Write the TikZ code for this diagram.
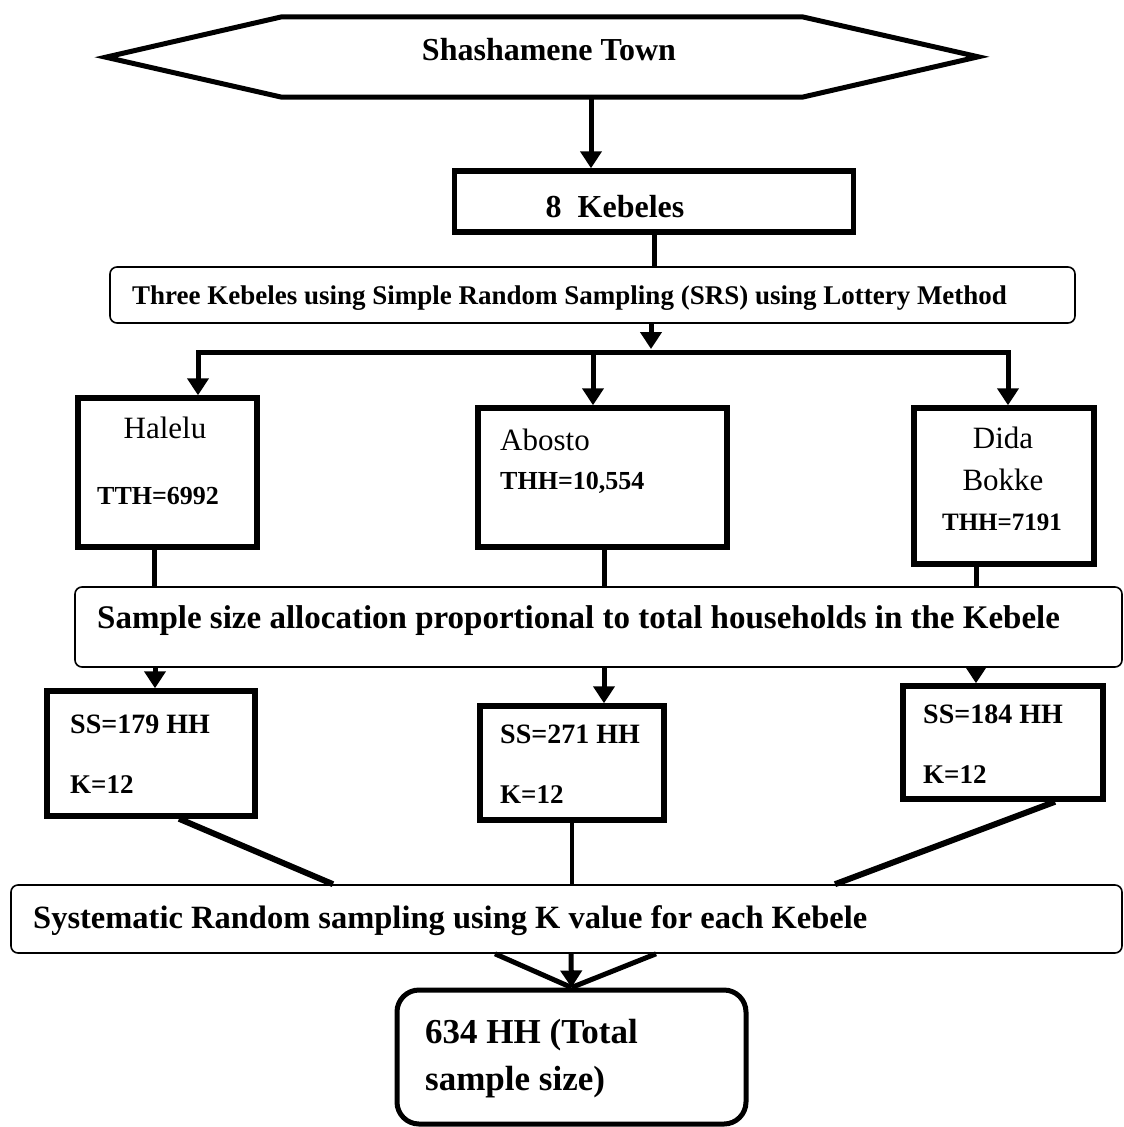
\documentclass[tikz,border=0pt]{standalone}
\usepackage{fontspec}
\setmainfont{Liberation Serif}
\usetikzlibrary{arrows.meta}

\tikzset{
  heavybox/.style={draw, line width=5.5, inner sep=0},
  softbox/.style={draw, rounded corners=7, line width=1.6, inner sep=0},
  link/.style={line width=5},
  arr/.style={link, -{Triangle[length=17pt,width=21pt]}},
  txt/.style={inner sep=0, font=\bfseries\fontsize{#1}{#1}\selectfont},
  txt/.default=26,
  plain/.style={inner sep=0, font=\fontsize{31}{31}\selectfont},
}

\begin{document}
\begin{tikzpicture}[x=1pt, y=-1pt]
  \useasboundingbox (0,0) rectangle (1124,1127);

  % Town and the kebeles
  \node (town) at (542,57) [minimum width=520, minimum height=80, inner sep=0] {};
  \draw[link, line join=miter] (town.north west) -- (town.north east) -- ++(176,40)
    -- (town.south east) -- (town.south west) -- ++(-176,-40) -- cycle;
  \node[txt=32, anchor=base] (towntxt) at (549,60) {Shashamene Town};

  \node[heavybox, minimum width=399, minimum height=61] (kebeles) at (654,201.5) {};
  \node[txt=32, anchor=base] (kebtxt) at (615,217) {8\ \ Kebeles};

  \node[softbox, minimum width=965, minimum height=56] (srs) at (592.5,295) {};
  \node[txt=27, anchor=base west] (srstxt) at (132,304)
    {Three Kebeles using Simple Random Sampling (SRS) using Lottery Method};

  \draw[arr] (town.south -| 591,0) -- (kebeles.north -| 591,0);
  \draw[link] (kebeles.south) -- (srs.north -| kebeles.south);

  % Selected kebeles
  \node[heavybox, minimum width=179, minimum height=149] (halelu) at (167.5,472.5) {};
  \node[heavybox, minimum width=249, minimum height=139] (abosto) at (602.5,477.5) {};
  \node[heavybox, minimum width=180, minimum height=156] (dida) at (1004,486) {};

  \node[plain, anchor=base] (halname) at (165,438) {Halelu};
  \node[txt, anchor=base west] (halthh) at (97,504) {TTH=6992};
  \node[plain, anchor=base west] (aboname) at (500,450) {Abosto};
  \node[txt, anchor=base west] (abothh) at (500,489) {THH=10,554};
  \node[plain, anchor=base] (didaname) at (1003,448) {Dida};
  \node[plain, anchor=base] (didaname2) at (1003,490) {Bokke};
  \node[txt=25, anchor=base] (didathh) at (1002,530) {THH=7191};

  \coordinate (split) at (651,349);
  \coordinate (barL) at (198,352);
  \coordinate (barR) at (1008,352);
  \draw[arr] (srs.south -| split) -- (split);
  \draw[link, line cap=rect] (barL) -- (barR);
  \draw[arr] (barL) -- (barL |- halelu.north);
  \draw[arr] (593,352) -- (abosto.north -| 593,0);
  \draw[arr] (barR) -- (barR |- dida.north);

  % Allocation
  \node[softbox, minimum width=1047, minimum height=80] (alloc) at (598.5,627) {};
  \node[txt=33, anchor=base west] (alloctxt) at (97,628)
    {Sample size allocation proportional to total households in the Kebele};

  \draw[link] (halelu.south -| 154,0) -- (alloc.north -| 154,0);
  \draw[link] (abosto.south -| 604,0) -- (alloc.north -| 604,0);
  \draw[link] (dida.south -| 976,0) -- (alloc.north -| 976,0);

  % Sample size per kebele
  \foreach \n/\x/\y/\w/\h/\tx/\ty/\ss in {ss179/151/753.5/208/125/70/733/179,
      ss271/572/763/184/114/500/743/271, ss184/1003/742.5/200/113/923/723/184} {
    \node[heavybox, minimum width=\w, minimum height=\h] (\n) at (\x,\y) {};
    \node[txt=28, anchor=base west] (\n ss) at (\tx,\ty) {SS=\ss\ HH};
    \node[txt=27, anchor=base west] (\n k) at (\tx,\ty+60) {K=12};
  }

  \draw[arr] (alloc.south -| 155,0) -- (ss179.north -| 155,0);
  \draw[arr] (alloc.south -| 604,0) -- (ss271.north -| 604,0);
  \draw[arr] (alloc.south -| 976,0) -- (ss184.north -| 976,0);

  % Systematic sampling and total
  \node[softbox, minimum width=1111, minimum height=68] (sys) at (566.5,919) {};
  \node[txt=32.5, anchor=base west] (systxt) at (33,928)
    {Systematic Random sampling using K value for each Kebele};

  \draw[link, line width=6] (ss179.south -| 179,0) -- (sys.north -| 333,0);
  \draw[link, line width=3.5] (ss271.south) -- (sys.north -| ss271.south);
  \draw[link, line width=6] (ss184.south -| 1055,0) -- (sys.north -| 835,0);

  \node[heavybox, line width=5, rounded corners=22, minimum width=349, minimum height=134]
    (final) at (571.5,1057) {};
  \node[txt=35, anchor=base west, align=left] (finaltxt) at (425,1090)
    {634 HH (Total\\[12pt]sample size)};

  \draw[link] (sys.south -| 495,0) -- (final.north);
  \draw[link] (sys.south -| 656,0) -- (final.north);
  \draw[arr] (sys.south -| 571,0) -- (final.north);
\end{tikzpicture}
\end{document}
